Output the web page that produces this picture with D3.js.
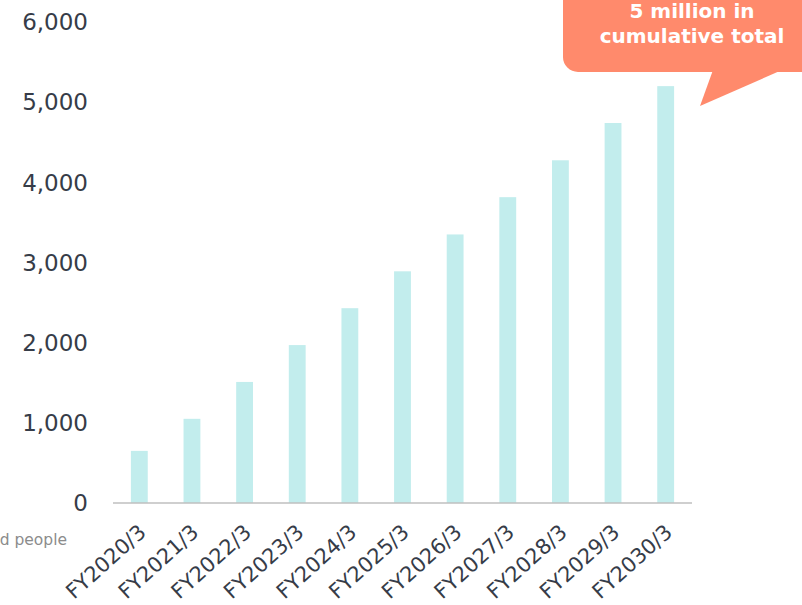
<!DOCTYPE html>
<html>
<head>
<meta charset="utf-8">
<script src="https://cdn.jsdelivr.net/npm/d3@7"></script>
<style>
  body { margin: 0; background: #fff; }
  svg { display: block; }
</style>
</head>
<body>
<div id="chart"></div>
<script>
// values in thousand people (cumulative)
var years = ["FY2020/3", "FY2021/3", "FY2022/3", "FY2023/3", "FY2024/3", "FY2025/3",
             "FY2026/3", "FY2027/3", "FY2028/3", "FY2029/3", "FY2030/3"];
var cumulative = [650, 1050, 1510, 1970, 2430, 2890, 3350, 3815, 4275, 4740, 5200];
var yTicks = [0, 1000, 2000, 3000, 4000, 5000, 6000];
var unitLabel = "Thousand people";
var calloutLines = ["5 million in", "cumulative total"];

var width = 802, height = 605;
var svg = d3.select("#chart").append("svg")
    .attr("width", width)
    .attr("height", height);

var x = d3.scaleBand()
    .domain(years)
    .range([113, 692])
    .paddingInner(0.68)
    .paddingOuter(0.34);

var y = d3.scaleLinear()
    .domain([0, 6000])
    .range([503, 22]);

// bars
svg.selectAll("rect.bar")
    .data(years)
    .enter().append("rect")
    .attr("class", "bar")
    .attr("x", function(d) { return x(d); })
    .attr("width", x.bandwidth())
    .attr("y", function(d, i) { return y(cumulative[i]); })
    .attr("height", function(d, i) { return y(0) - y(cumulative[i]); })
    .style("fill", "#c2eded");

// baseline
svg.append("line")
    .attr("x1", 113).attr("x2", 692)
    .attr("y1", y(0)).attr("y2", y(0))
    .style("stroke", "#bfbfbf")
    .style("stroke-width", 1.5);

// y tick labels
svg.selectAll("text.ytick")
    .data(yTicks)
    .enter().append("text")
    .attr("class", "ytick")
    .attr("x", 88)
    .attr("y", function(d) { return y(d); })
    .attr("dy", "0.36em")
    .attr("text-anchor", "end")
    .style("font-family", "DejaVu Sans, Verdana, sans-serif")
    .style("font-size", "23px")
    .style("fill", "#363c48")
    .text(function(d) { return d3.format(",")(d); });

// x labels, rotated
svg.selectAll("text.xlab")
    .data(years)
    .enter().append("text")
    .attr("class", "xlab")
    .attr("transform", function(d) {
        return "translate(" + (x(d) + x.bandwidth() / 2 + 8) + "," + 534 + ") rotate(-42)";
    })
    .attr("text-anchor", "end")
    .style("font-family", "DejaVu Sans, Verdana, sans-serif")
    .style("font-size", "21px")
    .style("fill", "#363c48")
    .text(function(d) { return d; });

// unit label (clipped off the left edge, as in the source)
svg.append("text")
    .attr("x", 67)
    .attr("y", 545)
    .attr("text-anchor", "end")
    .style("font-family", "DejaVu Sans, Verdana, sans-serif")
    .style("font-size", "15.5px")
    .style("fill", "#8c8c8c")
    .text(unitLabel);

// callout bubble
var bubble = svg.append("g");
bubble.append("rect")
    .attr("x", 563).attr("y", -30)
    .attr("width", 280).attr("height", 102)
    .attr("rx", 15)
    .style("fill", "#ff8a6c");
bubble.append("path")
    .attr("d", "M713,70 L700,106 L782,70 Z")
    .style("fill", "#ff8a6c");
bubble.selectAll("text")
    .data(calloutLines)
    .enter().append("text")
    .attr("x", 692)
    .attr("y", function(d, i) { return 18 + i * 25; })
    .attr("text-anchor", "middle")
    .style("font-family", "DejaVu Sans, Verdana, sans-serif")
    .style("font-size", "20px")
    .style("font-weight", "bold")
    .style("fill", "#fff")
    .text(function(d) { return d; });
</script>
</body>
</html>
